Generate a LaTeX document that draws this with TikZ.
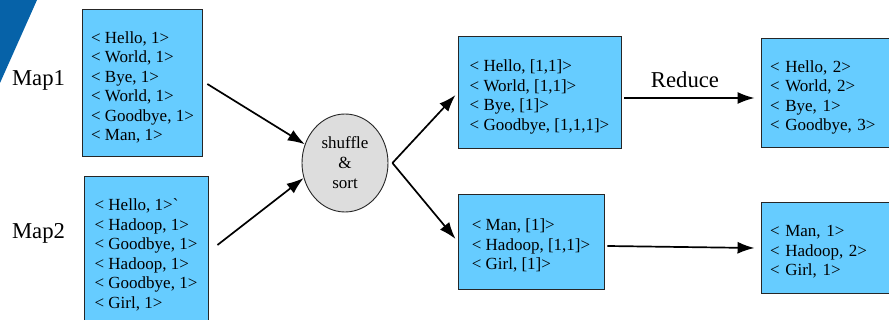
\documentclass[tikz,border=0pt]{standalone}
\usepackage{fontspec}
\setmainfont{Liberation Serif}
\usetikzlibrary{shapes.geometric,arrows.meta}
\definecolor{kvblue}{RGB}{102,204,255}
\definecolor{slideblue}{RGB}{6,98,168}
\definecolor{shufflegray}{RGB}{221,221,221}
\tikzset{
  kvbox/.style={draw=black!85,fill=kvblue,line width=0.9pt,inner xsep=9pt,
    align=left,anchor=center,font=\fontsize{17}{19.5}\selectfont},
  phase/.style={font=\fontsize{22.7}{26}\selectfont},
  arr/.style={-{Latex[length=17pt,width=12pt]},line width=1.7pt}
}
\begin{document}
\begin{tikzpicture}[x=1pt,y=-1pt]
            \useasboundingbox (0,0) rectangle (889,320);
            % Slide corner
            \fill[slideblue](0,0)--(37,0)--(0,83)--cycle;
            % Map outputs
            \node[kvbox,minimum width=117,minimum height=147](map1) at (142.5,82.5){\rule{0pt}{22pt}< Hello, 1>\\< World, 1>\\< Bye, 1>\\< World, 1>\\< Goodbye, 1>\\< Man, 1>};
            \node[kvbox,minimum width=124,minimum height=146](map2) at (146,249){\rule{0pt}{24pt}< Hello, 1>\textasciigrave\\< Hadoop, 1>\\< Goodbye, 1>\\< Hadoop, 1>\\< Goodbye, 1>\\< Girl, 1>};
            \node[phase](map1lbl) at (38.5,80){Map1};
            \node[phase](map2lbl) at (38.5,233){Map2};
            % Shuffle and sort
            \node[draw=black!85,fill=shufflegray,ellipse,line width=0.9pt,minimum width=86,minimum height=98,inner sep=0pt,align=center,font=\fontsize{17}{20}\selectfont](shuffle) at (345,163){shuffle\\\&\\sort};
            \coordinate (fork) at ([xshift=4pt]shuffle.east);
            % Grouped values
            \node[kvbox,minimum width=163,minimum height=112](grp1) at (539.5,92){\rule{0pt}{22pt}< Hello, [1,1]>\\< World, [1,1]>\\< Bye, [1]>\\< Goodbye, [1,1,1]>};
            \node[kvbox,minimum width=146,minimum height=95](grp2) at (531,241.5){\rule{0pt}{20pt}< Man, [1]>\\< Hadoop, [1,1]>\\< Girl, [1]>};
            % Reduce outputs
            \node[kvbox,minimum width=140,minimum height=109,text width=122pt](res1) at (831,92.5){\rule{0pt}{22pt}< Hello, 2>\\< World, 2>\\< Bye, 1>\\< Goodbye, 3>};
            \node[kvbox,minimum width=140,minimum height=91,text width=122pt](res2) at (831,247.5){\rule{0pt}{20pt}< Man, 1>\\< Hadoop, 2>\\< Girl, 1>};
            \node[phase](redlbl) at (685,80){Reduce};
            % Arrows
            \draw[arr]([shift={(4,1.5)}]map1.east)--(shuffle.155);
            \draw[arr]([shift={(9,-4)}]map2.east)--(shuffle.200);
            \draw[arr](fork)--([shift={(-2,3)}]grp1.west);
            \draw[arr](fork)--([shift={(-2,-2.5)}]grp2.west);
            \draw[arr]([shift={(3,6)}]grp1.east)coordinate(r1a)--(r1a-|res1.west)[shorten >=6pt];
            \draw[arr]([shift={(3,4.5)}]grp2.east)--([xshift=-6pt,yshift=-0.5pt]res2.west);
        \end{tikzpicture}
\end{document}
